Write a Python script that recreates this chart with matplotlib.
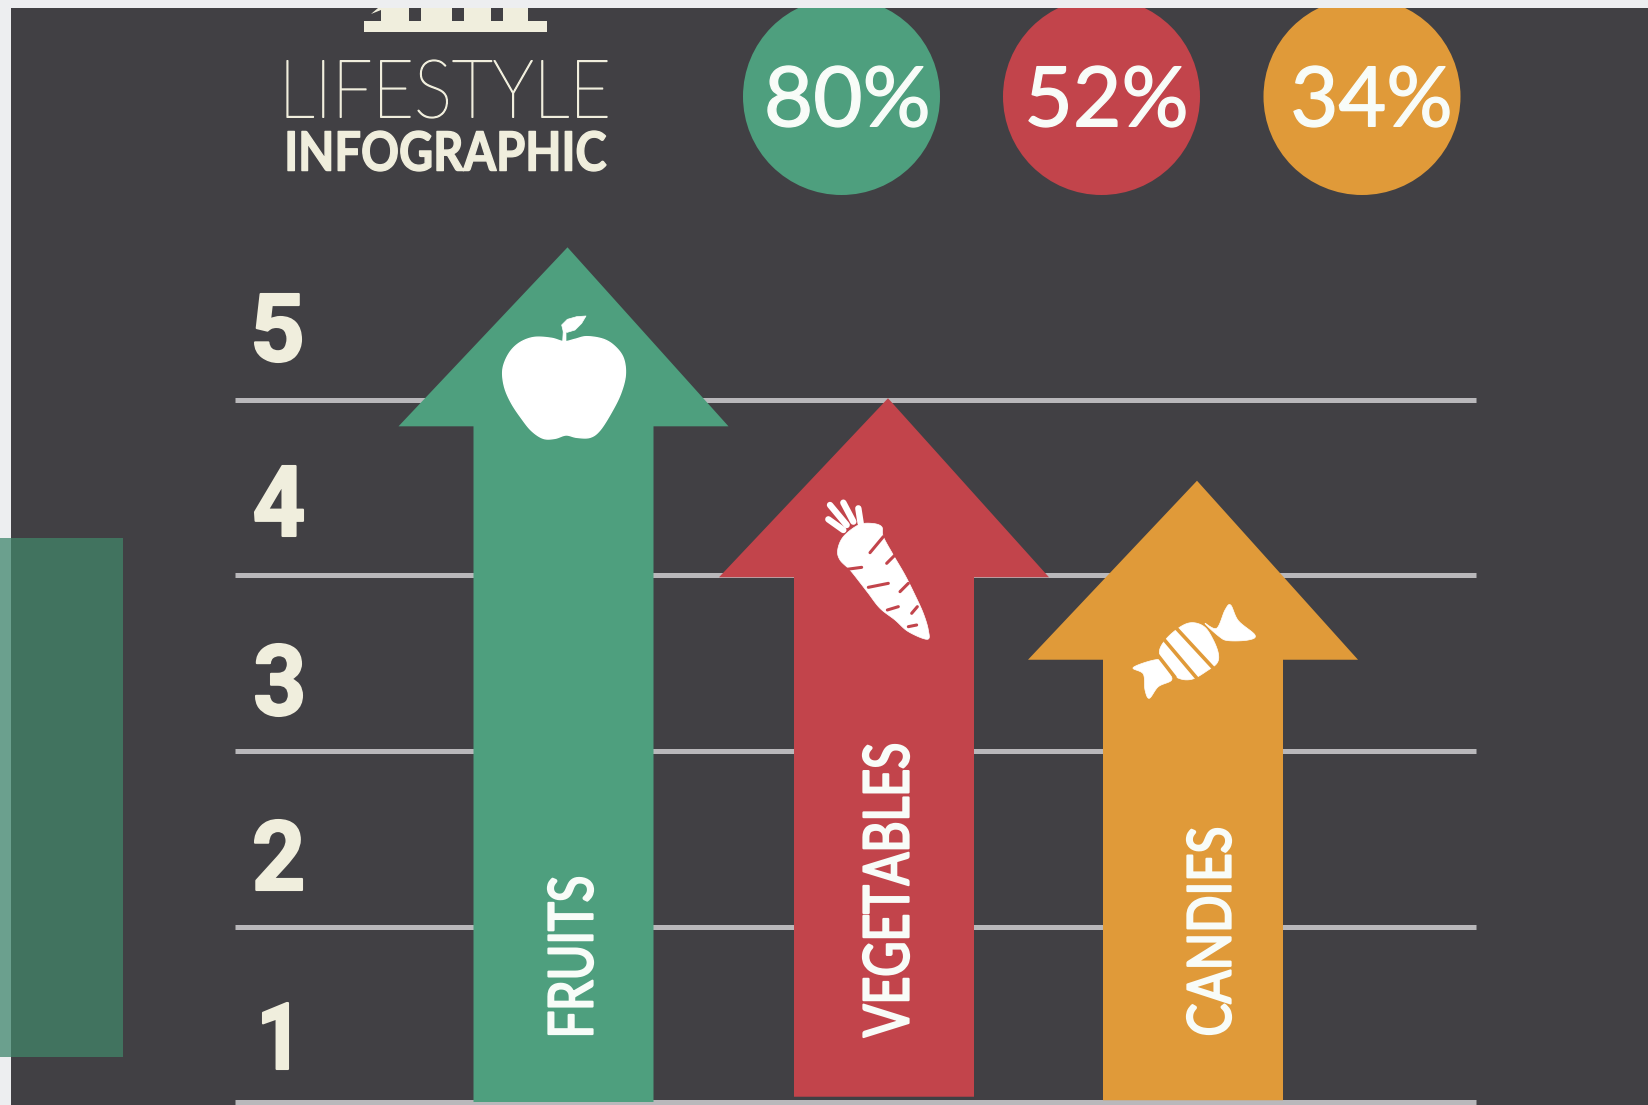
import numpy as np
import matplotlib
matplotlib.use('Agg')
import matplotlib.pyplot as plt
from matplotlib.font_manager import FontProperties
from matplotlib.patches import Circle, Polygon, Rectangle
from matplotlib.patheffects import AbstractPathEffect
from matplotlib.textpath import TextPath
from matplotlib.transforms import Affine2D

categories = ['FRUITS', 'VEGETABLES', 'CANDIES']
arrow_tops = [4.87, 4.01, 3.54]
arrow_bases = [0.0, 0.03, 0.01]
percents = [80, 52, 34]
tick_labels = ['1', '2', '3', '4', '5']
grid_levels = [0, 1, 2, 3, 4]

GREEN = '#4e9f7e'
RED = '#c2444b'
ORANGE = '#e09a39'
BG = '#414044'
PAPER = '#edeef0'
CREAM = '#f0eedd'
WHITE = '#f8fcf8'
colors = [GREEN, RED, ORANGE]

W, H = 1648, 1105
DPI = 100
arrow_x = [563.5, 884, 1193]
circle_x = [841.5, 1101.5, 1362]


class Stretch(AbstractPathEffect):
    # scales drawn glyphs around a display point, optionally fattening them
    def __init__(self, anchor, sx=1.0, sy=1.0, grow=0.0):
        super().__init__()
        self.anchor, self.sx, self.sy, self.grow = anchor, sx, sy, grow

    def draw_path(self, renderer, gc, tpath, affine, rgbFace=None):
        ax_, ay_ = self.anchor
        t = affine + Affine2D().translate(-ax_, -ay_).scale(self.sx, self.sy).translate(ax_, ay_)
        g = renderer.new_gc()
        g.copy_properties(gc)
        if self.grow:
            g.set_linewidth(self.grow)
            g.set_foreground(rgbFace)
            g.set_joinstyle('round')
        renderer.draw_path(g, tpath, t, rgbFace)
        g.restore()


fig = plt.figure(figsize=(W / DPI, H / DPI), dpi=DPI, facecolor=PAPER)

# value axes: one unit per grid band, x in pixels
ax = fig.add_axes([0, 0, 1, 1], zorder=2)
ax.set_xlim(0, W)
ax.set_ylim(-3 / 175.5, 1102 / 175.5)
ax.axis('off')

# pixel axes for the background and artwork
back = fig.add_axes([0, 0, 1, 1], zorder=1)
back.set_xlim(0, W)
back.set_ylim(H, 0)
back.axis('off')
art = fig.add_axes([0, 0, 1, 1], zorder=3)
art.set_xlim(0, W)
art.set_ylim(H, 0)
art.axis('off')

back.add_patch(Rectangle((11, 8), W - 11, H - 8, fc=BG, ec='none'))
back.add_patch(Rectangle((0, 538), 11, 519, fc='#6ba08e', ec='none'))
back.add_patch(Rectangle((11, 538), 112, 519, fc='#41735f', ec='none'))

for lv in grid_levels:
    ax.plot([235, 1476], [lv, lv], color='#b9b8bb', lw=3.6, solid_capstyle='butt', zorder=1)

# arrows
HEAD = 1.02
for cx, top, base, c in zip(arrow_x, arrow_tops, arrow_bases, colors):
    pts = [(cx - 90, base), (cx - 90, top - HEAD), (cx - 165, top - HEAD), (cx + 4, top),
           (cx + 165, top - HEAD), (cx + 90, top - HEAD), (cx + 90, base)]
    ax.add_patch(Polygon(pts, closed=True, fc=c, ec='none', zorder=2))


def fit_text(s, x0, y0, x1, y1, color, weight='normal', vertical=False, family='Lato', grow=0.0):
    prop = FontProperties(family=family, weight=weight)
    ext = TextPath((0, 0), s, size=100, prop=prop).get_extents()
    run = y1 - y0 if vertical else x1 - x0
    cap = x1 - x0 if vertical else y1 - y0
    size_px = cap / ext.height * 100
    scale = run / (ext.width * size_px / 100)
    lead = ext.x0 * size_px / 100 * scale
    drop = ext.y0 * size_px / 100
    if vertical:
        xa, ya = x1 + drop, y1 + lead
    else:
        xa, ya = x0 - lead, y1 + drop
    anchor = art.transData.transform((xa, ya))
    fx = Stretch(anchor, sy=scale, grow=grow) if vertical else Stretch(anchor, sx=scale, grow=grow)
    art.text(xa, ya, s, fontproperties=prop, fontsize=size_px * 72 / DPI, color=color,
             rotation=90 if vertical else 0, rotation_mode='anchor', ha='left', va='baseline',
             path_effects=[fx], zorder=6)


# percentage badges
pct_boxes = [(768, 927), (1029, 1185), (1294, 1449)]
for cx, p, c, (a, b) in zip(circle_x, percents, colors, pct_boxes):
    art.add_patch(Circle((cx, 96.5), 98.5, fc=c, ec='none', zorder=2))
    fit_text(f'{p}%', a, 66, b, 127, WHITE, grow=1.0)

# title block and its base ornament
fit_text('LIFESTYLE', 287, 60, 607, 118, CREAM, weight=100, grow=0.9)
fit_text('INFOGRAPHIC', 288, 131, 606, 171, CREAM, weight='bold', grow=1.0)
art.add_patch(Rectangle((364, 21), 183, 11, fc=CREAM, ec='none', zorder=2))
art.add_patch(Rectangle((381, 8), 147, 14, fc=CREAM, ec='none', zorder=2))
for gap in (409, 452, 491):
    art.add_patch(Rectangle((gap, 8), 12, 13, fc=BG, ec='none', zorder=3))
art.add_patch(Polygon([(371, 14), (378, 8), (381, 8), (381, 10)], fc=CREAM, ec='none', zorder=3))

# band numbers
num_spans = [(263, 288, 1003, 1069), (255, 302, 820, 890), (256, 302, 644, 716),
             (255, 303, 466, 536), (255, 301, 294, 362)]
for t, (a, b, c, d) in zip(tick_labels, num_spans):
    fit_text(t, a, c, b, d, CREAM, weight='bold', family='Roboto', grow=1.5)

# arrow captions
cap_spans = [(548, 878, 593, 1034), (863, 745, 909, 1037), (1187, 829, 1231, 1034)]
for name, (a, c, b, d) in zip(categories, cap_spans):
    fit_text(name, a, c, b, d, WHITE, weight='normal', vertical=True, grow=1.6)


def smooth(points, n=8):
    # closed Catmull-Rom curve through the outline points
    p = np.array(points, float)
    out = []
    for i in range(len(p)):
        p0, p1, p2, p3 = p[i - 1], p[i], p[(i + 1) % len(p)], p[(i + 2) % len(p)]
        for t in np.linspace(0, 1, n, endpoint=False):
            out.append(0.5 * (2 * p1 + (p2 - p0) * t + (2 * p0 - 5 * p1 + 4 * p2 - p3) * t ** 2
                              + (3 * p1 - p0 - 3 * p2 + p3) * t ** 3))
    return np.array(out)


def icon(points, ox, oy, color, lw=0.0, z=4, curve=True):
    xy = (smooth(points) if curve else np.array(points, float)) / 3 + [ox, oy]
    art.add_patch(Polygon(xy, closed=True, fc=color, ec=color, lw=lw, joinstyle='round', zorder=z))


def stroke(a, b, ox, oy, color, lw, z=5):
    xy = np.array([a, b], float) / 3 + [ox, oy]
    art.plot(xy[:, 0], xy[:, 1], color=color, lw=lw, solid_capstyle='round', zorder=z)


# apple
icon([(252, 125), (215, 115), (165, 112), (125, 125), (95, 150), (75, 185), (68, 220), (75, 265),
      (95, 310), (125, 355), (155, 392), (190, 415), (225, 415), (258, 405), (290, 412), (330, 412),
      (360, 390), (395, 335), (422, 280), (436, 225), (430, 175), (405, 140), (370, 118), (320, 110),
      (285, 118)], 480, 300, 'white', lw=1)
icon([(248, 125), (258, 125), (258, 97), (250, 88)], 480, 300, 'white', lw=0.5, curve=False)
icon([(250, 95), (245, 75), (262, 58), (290, 50), (318, 48), (305, 70), (285, 90), (262, 97)],
     480, 300, 'white', lw=0.5, curve=False)

# carrot
icon([(130, 170), (113, 210), (120, 240), (150, 270), (178, 305), (205, 340), (240, 385), (285, 420),
      (325, 455), (382, 478), (385, 450), (370, 400), (345, 345), (315, 285), (280, 225), (250, 170),
      (245, 140), (215, 130), (175, 135)], 800, 480, 'white', lw=0.5)
for a, b in [((130, 150), (85, 118)), ((140, 135), (90, 75)), ((160, 125), (130, 68)), ((182, 130), (175, 85))]:
    stroke(a, b, 800, 480, 'white', 4.6, z=4)
for a, b in [((250, 170), (210, 218)), ((285, 225), (260, 250)), ((185, 262), (140, 268)),
             ((265, 310), (205, 322)), ((325, 310), (300, 335)), ((295, 380), (262, 390)),
             ((352, 380), (335, 400)), ((350, 435), (325, 440))]:
    stroke(a, b, 800, 480, RED, 2.2)

# candy: striped body and two wrapper ends
icon([(215, 108), (250, 98), (285, 112), (310, 150), (325, 190), (322, 218), (295, 240), (245, 268),
      (200, 262), (165, 225), (148, 185), (170, 145)], 1110, 590, 'white', lw=0.5)
for a, b in [((190, 105), (315, 240)), ((155, 140), (265, 270)), ((135, 185), (195, 262))]:
    stroke(a, b, 1110, 590, ORANGE, 2.6)
icon([(150, 208), (70, 232), (100, 252), (105, 300), (118, 325), (145, 290), (185, 270), (172, 240)],
     1110, 590, 'white', lw=0.5)
icon([(285, 100), (320, 115), (345, 60), (362, 45), (385, 92), (435, 135), (415, 150), (355, 152), (328, 140)],
     1110, 590, 'white', lw=0.5)

# paper edge over the top of the badges
art.add_patch(Rectangle((0, 0), W, 8, fc=PAPER, ec='none', zorder=7))

fig.savefig('out.png', dpi=DPI, facecolor=PAPER)
